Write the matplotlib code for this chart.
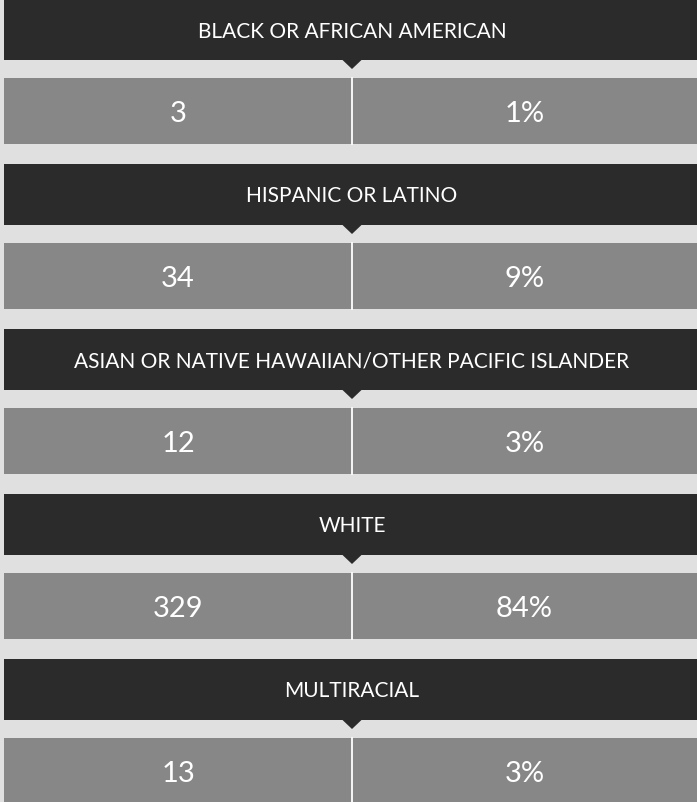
import matplotlib
matplotlib.use('Agg')
import matplotlib.pyplot as plt
from matplotlib.patches import Rectangle, Polygon

# data read from the infographic
categories = [
    "BLACK OR AFRICAN AMERICAN",
    "HISPANIC OR LATINO",
    "ASIAN OR NATIVE HAWAIIAN/OTHER PACIFIC ISLANDER",
    "WHITE",
    "MULTIRACIAL",
]
counts = [3, 34, 12, 329, 13]
percents = [1, 9, 3, 84, 3]

# layout (pixel units, y down)
W, H = 697, 803
step = 165
head_h = 61
gap = 18
bar_h = 66
left, right = 4, 697
mid = 352

dark = '#2b2b2b'
grey = '#878787'
bg = '#e0e0e0'

fig = plt.figure(figsize=(W / 100, H / 100), dpi=100)
fig.patch.set_facecolor(bg)
ax = fig.add_axes([0, 0, 1, 1])
ax.set_xlim(0, W)
ax.set_ylim(H, 0)
ax.axis('off')
ax.set_facecolor(bg)

for i, (cat, n, p) in enumerate(zip(categories, counts, percents)):
    top = i * step
    # header bar with pointer
    ax.add_patch(Rectangle((left, top), right - left, head_h, color=dark, lw=0))
    ax.add_patch(Polygon([[mid - 10, top + head_h - 0.5], [mid + 10, top + head_h - 0.5],
                          [mid, top + head_h + 9]], closed=True, color=dark, lw=0))
    ax.text(mid, top + head_h / 2 + 1, cat, color='white', fontsize=15,
            family='Lato', ha='center', va='center')

    # value bar
    btop = top + head_h + gap
    ax.add_patch(Rectangle((left, btop), right - left, bar_h, color=grey, lw=0))
    ax.plot([mid, mid], [btop, btop + bar_h], color='white', lw=1.3)
    ax.text((left + mid) / 2, btop + bar_h / 2 + 2, str(n), color='white',
            fontsize=21, family='Lato', ha='center', va='center')
    ax.text((mid + right) / 2, btop + bar_h / 2 + 2, f"{p}%", color='white',
            fontsize=21, family='Lato', ha='center', va='center')

fig.savefig('out.png', dpi=100, facecolor=bg)
